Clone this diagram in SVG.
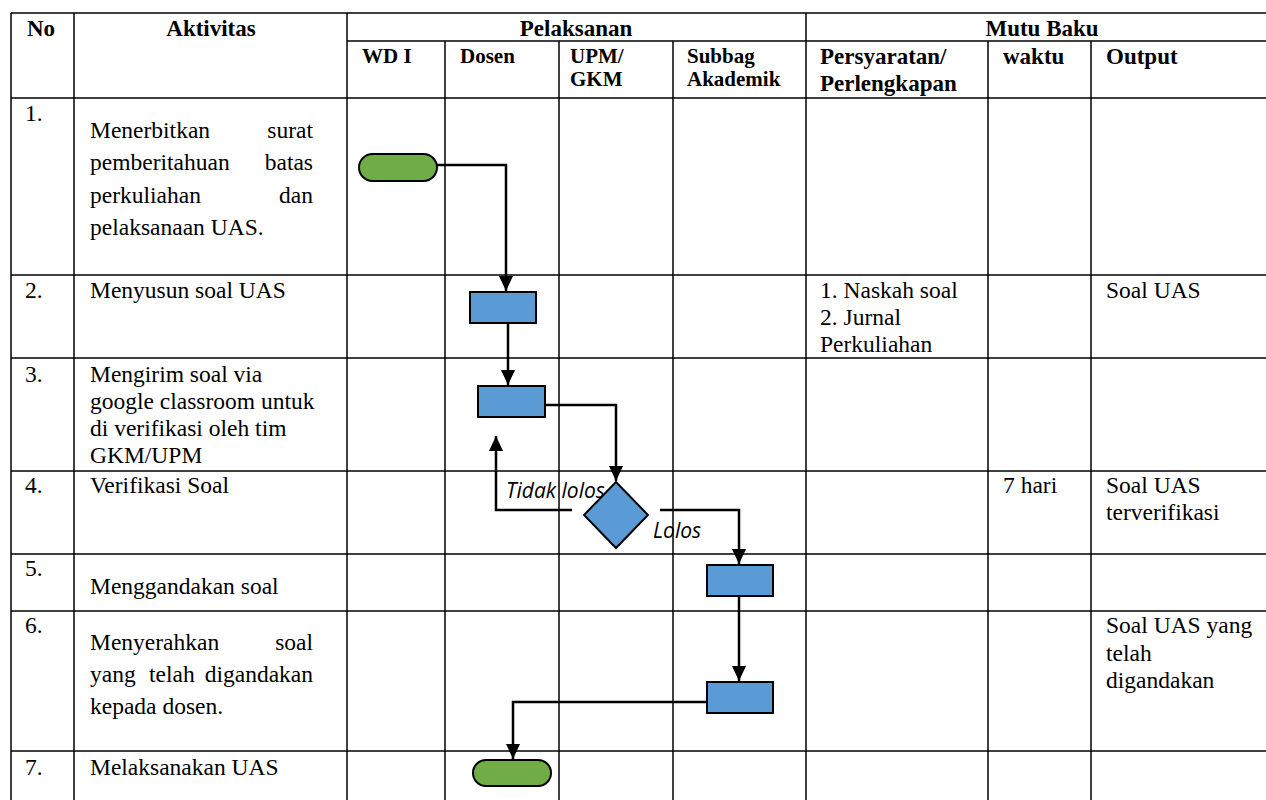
<svg xmlns="http://www.w3.org/2000/svg" width="1266" height="800" viewBox="0 0 1266 800">
<style>
.grid line{stroke:#000;stroke-width:1.5}
text{font-family:"Liberation Serif","Times New Roman",serif;fill:#000}
.h{font-size:23px;font-weight:bold}
.hs{font-size:21px;font-weight:bold}
.b{font-size:23.5px}
.m{text-anchor:middle}
.e{text-anchor:end}
.lbl{font-family:"Open Sans","Liberation Sans",sans-serif;font-size:21px;font-style:italic}
.term{fill:#70AD47;stroke:#000;stroke-width:2}
.proc{fill:#5B9BD5;stroke:#000;stroke-width:2}
.conn path{fill:none;stroke:#000;stroke-width:2.5}
</style>
<defs>
<marker id="arr" viewBox="0 0 15 14" refX="15" refY="7" markerWidth="15" markerHeight="14" markerUnits="userSpaceOnUse" orient="auto">
<path d="M0,0 L15,7 L0,14 z" fill="#000"/>
</marker>
</defs>
<rect width="1266" height="800" fill="#fff"/>
<g id="table" class="grid">
<line x1="11" y1="13" x2="1280" y2="13"/>
<line x1="347" y1="41" x2="1280" y2="41"/>
<line x1="11" y1="98" x2="1280" y2="98"/>
<line x1="11" y1="275" x2="1280" y2="275"/>
<line x1="11" y1="358" x2="1280" y2="358"/>
<line x1="11" y1="471" x2="1280" y2="471"/>
<line x1="11" y1="554" x2="1280" y2="554"/>
<line x1="11" y1="611" x2="1280" y2="611"/>
<line x1="11" y1="751" x2="1280" y2="751"/>
<line x1="11" y1="13" x2="11" y2="800"/>
<line x1="74" y1="13" x2="74" y2="800"/>
<line x1="347" y1="13" x2="347" y2="800"/>
<line x1="445" y1="41" x2="445" y2="800"/>
<line x1="559" y1="41" x2="559" y2="800"/>
<line x1="673" y1="41" x2="673" y2="800"/>
<line x1="806" y1="13" x2="806" y2="800"/>
<line x1="988" y1="41" x2="988" y2="800"/>
<line x1="1091" y1="41" x2="1091" y2="800"/>
</g>
<g id="headers">
<text class="h m" x="41" y="36">No</text>
<text class="h m" x="211" y="36">Aktivitas</text>
<text class="h m" x="576" y="36">Pelaksanan</text>
<text class="h m" x="1042" y="36">Mutu Baku</text>
<text class="hs" x="362" y="63">WD I</text>
<text class="hs" x="460" y="63">Dosen</text>
<text class="hs" x="570" y="63">UPM/</text>
<text class="hs" x="570" y="86">GKM</text>
<text class="hs" x="687" y="63">Subbag</text>
<text class="hs" x="687" y="86">Akademik</text>
<text class="h" x="820" y="64">Persyaratan/</text>
<text class="h" x="820" y="91">Perlengkapan</text>
<text class="h" x="1003" y="64">waktu</text>
<text class="h" x="1106" y="64">Output</text>
</g>
<g id="row1">
<text class="b" x="25" y="121">1.</text>
<text class="b" x="90" y="138">Menerbitkan</text><text class="b e" x="313" y="138">surat</text>
<text class="b" x="90" y="170">pemberitahuan</text><text class="b e" x="313" y="170">batas</text>
<text class="b" x="90" y="203">perkuliahan</text><text class="b e" x="313" y="203">dan</text>
<text class="b" x="90" y="235">pelaksanaan UAS.</text>
</g>
<g id="row2">
<text class="b" x="25" y="298">2.</text>
<text class="b" x="90" y="298">Menyusun soal UAS</text>
<text class="b" x="820" y="298">1. Naskah soal</text>
<text class="b" x="820" y="325">2. Jurnal</text>
<text class="b" x="820" y="352">Perkuliahan</text>
<text class="b" x="1106" y="298">Soal UAS</text>
</g>
<g id="row3">
<text class="b" x="25" y="382">3.</text>
<text class="b" x="90" y="382">Mengirim soal via</text>
<text class="b" x="90" y="409">google classroom untuk</text>
<text class="b" x="90" y="436">di verifikasi oleh tim</text>
<text class="b" x="90" y="463">GKM/UPM</text>
</g>
<g id="row4">
<text class="b" x="25" y="493">4.</text>
<text class="b" x="90" y="493">Verifikasi Soal</text>
<text class="b" x="1003" y="493">7 hari</text>
<text class="b" x="1106" y="493">Soal UAS</text>
<text class="b" x="1106" y="520">terverifikasi</text>
</g>
<g id="row5">
<text class="b" x="25" y="576">5.</text>
<text class="b" x="90" y="594">Menggandakan soal</text>
</g>
<g id="row6">
<text class="b" x="25" y="633">6.</text>
<text class="b" x="90" y="650">Menyerahkan</text><text class="b e" x="313" y="650">soal</text>
<text class="b" x="90" y="682">yang</text><text class="b" x="149" y="682">telah</text><text class="b e" x="313" y="682">digandakan</text>
<text class="b" x="90" y="714">kepada dosen.</text>
<text class="b" x="1106" y="633">Soal UAS yang</text>
<text class="b" x="1106" y="661">telah</text>
<text class="b" x="1106" y="688">digandakan</text>
</g>
<g id="row7">
<text class="b" x="25" y="775">7.</text>
<text class="b" x="90" y="775">Melaksanakan UAS</text>
</g>
<g id="connectors" class="conn">
<path d="M437,165 H506 V291" marker-end="url(#arr)"/>
<path d="M508,323 V385" marker-end="url(#arr)"/>
<path d="M545,405 H616 V481" marker-end="url(#arr)"/>
<path d="M572,510 H496 V436" marker-end="url(#arr)"/>
<path d="M660,510 H739 V564" marker-end="url(#arr)"/>
<path d="M739,596 V681" marker-end="url(#arr)"/>
<path d="M707,702 H513 V759" marker-end="url(#arr)"/>
</g>
<g id="start"><rect class="term" x="359" y="154" width="78" height="27" rx="13.5"/></g>
<g id="susun"><rect class="proc" x="470" y="292" width="66" height="31"/></g>
<g id="kirim"><rect class="proc" x="478" y="386" width="67" height="31"/></g>
<g id="verifikasi"><polygon class="proc" points="616,482 648,515 616,548 584,515"/></g>
<g id="gandakan"><rect class="proc" x="707" y="565" width="66" height="31"/></g>
<g id="serahkan"><rect class="proc" x="707" y="682" width="66" height="31"/></g>
<g id="end"><rect class="term" x="473" y="760" width="78" height="26" rx="13"/></g>
<g id="labels">
<text class="lbl" x="506" y="498">Tidak lolos</text>
<text class="lbl" x="653" y="538">Lolos</text>
</g>
</svg>
